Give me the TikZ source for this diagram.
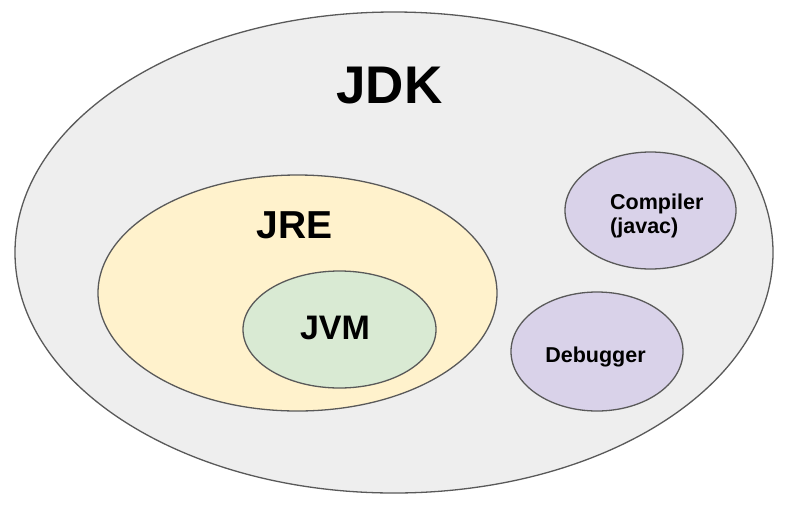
\documentclass[tikz,border=0pt]{standalone}
\usepackage{fontspec}
\setmainfont{Liberation Sans}
\definecolor{jdkfill}{HTML}{EEEEEE}
\definecolor{jrefill}{HTML}{FFF2CC}
\definecolor{jvmfill}{HTML}{D9EAD3}
\definecolor{toolfill}{HTML}{D9D2E9}
\definecolor{edge}{HTML}{595959}
\begin{document}
\begin{tikzpicture}[x=1pt,y=-1pt,
  blob/.style={draw=edge,line width=1.3pt},
  lbl/.style={inner sep=0pt,font=\bfseries}]
\useasboundingbox (0,0) rectangle (800,504);
\fill[white] (0,0) rectangle (800,504);
\draw[blob,fill=jdkfill] (394,252.5) ellipse [x radius=379, y radius=240.5];
\draw[blob,fill=jrefill] (297.5,293) ellipse [x radius=199.5, y radius=118];
\draw[blob,fill=jvmfill] (339.5,329.5) ellipse [x radius=96.5, y radius=58.5];
\draw[blob,fill=toolfill] (650.5,210.5) ellipse [x radius=85.5, y radius=58.5];
\draw[blob,fill=toolfill] (597,351.5) ellipse [x radius=86, y radius=59.5];
\node[lbl,font=\bfseries\fontsize{53}{60}\selectfont,anchor=base] (jdk) at (389.5,103) {JDK};
\node[lbl,font=\bfseries\fontsize{39}{45}\selectfont,anchor=base] (jre) at (294.5,238) {JRE};
\node[lbl,font=\bfseries\fontsize{34}{40}\selectfont,anchor=base] (jvm) at (335,339) {JVM};
\node[lbl,font=\bfseries\fontsize{21.5}{24}\selectfont,anchor=base west] (comp1) at (610,209) {Compiler};
\node[lbl,font=\bfseries\fontsize{21.5}{24}\selectfont,anchor=base west] (comp2) at (610,233) {(javac)};
\node[lbl,font=\bfseries\fontsize{21.5}{24}\selectfont,anchor=base] (dbg) at (595.5,362) {Debugger};
\end{tikzpicture}
\end{document}
